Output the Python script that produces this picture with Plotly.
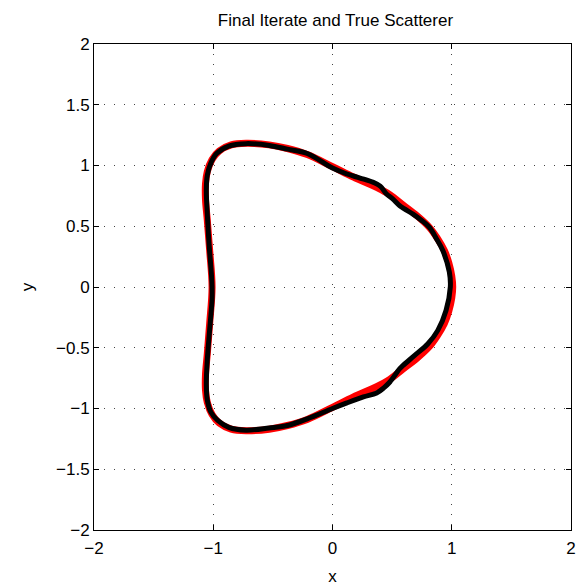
import plotly.graph_objects as go

# True scatterer (red), traced counter-clockwise from the right tip
true_x = [1.008, 1.0, 0.975, 0.938, 0.88, 0.813, 0.71, 0.592, 0.48, 0.37, 0.176, 0.0,
          -0.212, -0.378, -0.531, -0.725, -0.85, -0.95, -1.01, -1.05, -1.065, -1.065,
          -1.05, -1.03, -1.01,
          -1.03, -1.05, -1.065, -1.065, -1.05, -1.01, -0.95, -0.85, -0.725, -0.531,
          -0.378, -0.212, 0.0, 0.176, 0.37, 0.48, 0.592, 0.71, 0.813, 0.88, 0.938,
          0.975, 1.0, 1.008]
true_y = [0.0, 0.09, 0.20, 0.30, 0.40, 0.49, 0.585, 0.675, 0.76, 0.82, 0.905, 0.99,
          1.09, 1.14, 1.17, 1.183, 1.17, 1.12, 1.05, 0.95, 0.85, 0.72,
          0.55, 0.30, 0.0,
          -0.30, -0.55, -0.72, -0.85, -0.95, -1.05, -1.12, -1.17, -1.183, -1.17,
          -1.14, -1.09, -0.99, -0.905, -0.82, -0.76, -0.675, -0.585, -0.49, -0.40, -0.30,
          -0.20, -0.09, 0.0]

# Final iterate (black)
iter_x = [0.988, 0.98, 0.925, 0.87, 0.813, 0.745, 0.675, 0.60, 0.564, 0.50, 0.453, 0.40,
          0.343, 0.231, 0.121, 0.0, -0.212, -0.378, -0.53, -0.725, -0.87, -0.97, -1.02,
          -1.05, -1.058, -1.05, -1.035, -1.015, -1.01,
          -1.01, -1.03, -1.05, -1.058, -1.05, -1.02, -0.96, -0.87, -0.725, -0.531,
          -0.378, -0.212, 0.0, 0.121, 0.259, 0.37, 0.43, 0.481, 0.564, 0.592, 0.689,
          0.8, 0.883, 0.952, 0.988]
iter_y = [0.0, 0.122, 0.30, 0.40, 0.491, 0.55, 0.60, 0.645, 0.669, 0.73, 0.765, 0.83,
          0.861, 0.897, 0.93, 0.979, 1.099, 1.135, 1.165, 1.18, 1.16, 1.10, 1.02,
          0.92, 0.80, 0.60, 0.35, 0.10, 0.0,
          -0.10, -0.35, -0.60, -0.80, -0.93, -1.03, -1.10, -1.155, -1.178, -1.16,
          -1.14, -1.085, -1.0, -0.954, -0.905, -0.872, -0.83, -0.782, -0.672, -0.645, -0.563,
          -0.467, -0.357, -0.193, 0.0]

x_ticks = [-2, -1, 0, 1, 2]
y_ticks = [-2, -1.5, -1, -0.5, 0, 0.5, 1, 1.5, 2]

FONT = "Liberation Sans, Arial, Helvetica, sans-serif"
FS = 17

fig = go.Figure()
fig.add_trace(go.Scatter(x=true_x, y=true_y, mode="lines",
                         line=dict(color="#ff0000", width=7, shape="spline", smoothing=1.0),
                         showlegend=False))
fig.add_trace(go.Scatter(x=iter_x, y=iter_y, mode="lines",
                         line=dict(color="#000000", width=5, shape="spline", smoothing=1.0),
                         showlegend=False))

axis_common = dict(
    showline=True, linecolor="black", linewidth=1, mirror="allticks",
    ticks="inside", ticklen=5, tickcolor="black", tickwidth=1,
    showgrid=True, gridcolor="#444444", gridwidth=1, griddash="1px,9px",
    zeroline=False, tickfont=dict(family=FONT, size=FS, color="black"),
)

fig.update_layout(
    width=581, height=588,
    margin=dict(l=94, r=5, t=44, b=58),
    paper_bgcolor="white", plot_bgcolor="white",
    title=dict(text="Final Iterate and True Scatterer", x=0.5774, xanchor="center",
               y=1 - 20 / 588, yanchor="middle", yref="container",
               font=dict(family=FONT, size=FS, color="black")),
    xaxis=dict(range=[-2, 2], tickvals=x_ticks, ticklabelstandoff=3, **axis_common,
               title=dict(text="x", standoff=12, font=dict(family=FONT, size=FS, color="black"))),
    yaxis=dict(range=[-2, 2], tickvals=y_ticks, **axis_common,
               title=dict(text="y", standoff=18, font=dict(family=FONT, size=FS, color="black"))),
)

fig.write_html("out.html")
